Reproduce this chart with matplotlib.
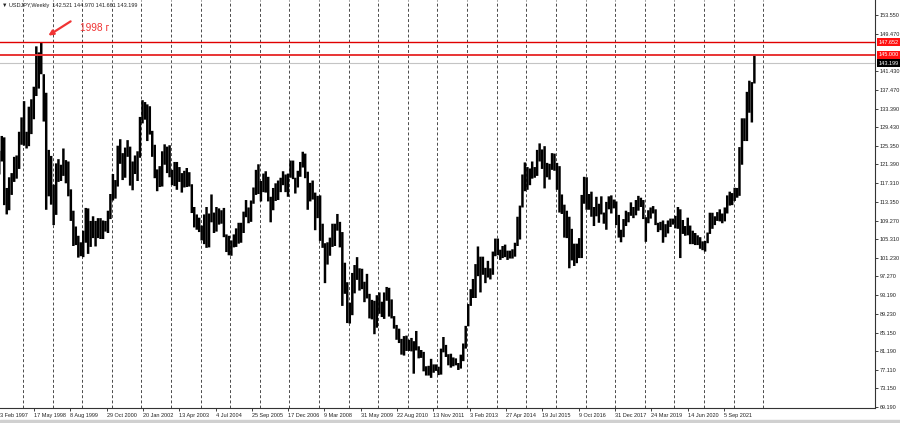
import datetime as dt
import numpy as np
import pandas as pd
import matplotlib
matplotlib.use("Agg")
import matplotlib.pyplot as plt
import matplotlib.transforms as mtransforms
from matplotlib.patches import Rectangle

# header of the chart window
symbol = "USDJPY,Weekly"
last_ohlc = [142.521, 144.970, 141.661, 143.199]

# monthly high / low of USDJPY, Mar 1997 .. Sep 2022
first_month = "1997-03-01"
highs = [
    124.3, 127.5, 127.2, 116.3, 118.6, 119.5, 123.0, 123.3, 128.4, 131.5,                # 1997
    135.0, 128.4, 133.8, 135.4, 138.1, 146.8, 145.5, 147.66, 140.8, 136.8, 124.5, 123.2,  # 1998
    117.0, 121.6, 122.5, 121.3, 124.8, 122.3, 122.0, 116.0, 111.4, 108.0, 106.0, 104.6,   # 1999
    107.1, 112.0, 111.9, 109.2, 110.2, 109.2, 109.8, 109.8, 109.3, 109.2, 111.4, 115.0,   # 2000
    119.3, 118.0, 125.4, 126.8, 123.8, 125.0, 126.6, 125.2, 122.0, 123.3, 124.2, 131.6,   # 2001
    135.2, 134.8, 134.3, 133.9, 128.6, 125.6, 120.3, 121.0, 124.2, 125.7, 125.2, 125.5,   # 2002
    120.2, 121.9, 121.9, 120.8, 119.5, 120.0, 120.6, 119.7, 117.1, 112.2, 110.6, 109.9,   # 2003
    108.2, 110.6, 112.2, 110.8, 114.9, 111.0, 112.2, 111.9, 111.5, 112.0, 106.3, 106.0,   # 2004
    105.0, 106.3, 107.6, 108.8, 108.8, 111.2, 113.7, 112.1, 113.6, 116.4, 120.2, 121.4,   # 2005
    117.8, 119.4, 119.9, 118.7, 114.4, 116.3, 117.3, 117.9, 118.5, 119.9, 119.2, 119.4,   # 2006
    122.2, 122.2, 118.5, 120.0, 121.9, 124.1, 123.7, 119.8, 117.4, 117.9, 115.3, 114.6,   # 2007
    114.7, 108.6, 104.4, 104.6, 105.6, 108.6, 108.6, 110.7, 109.0, 106.8, 100.2, 96.0,    # 2008
    91.6, 98.0, 99.7, 101.4, 99.0, 98.9, 96.1, 97.8, 93.5, 92.2, 92.0, 93.2,              # 2009
    93.8, 91.8, 93.8, 94.98, 94.8, 92.3, 88.7, 86.8, 86.0, 83.8, 84.4, 84.5,              # 2010
    83.6, 84.0, 83.3, 85.5, 82.2, 81.4, 81.0, 77.9, 78.0, 79.5, 78.3, 78.3,               # 2011
    77.8, 81.7, 84.2, 82.5, 80.5, 80.6, 79.8, 79.6, 78.6, 80.4, 82.8, 86.6,               # 2012
    91.3, 94.5, 96.7, 99.9, 103.7, 101.5, 101.5, 99.1, 100.6, 99.0, 102.6, 105.4,         # 2013
    105.4, 103.0, 103.8, 104.1, 102.8, 102.8, 103.1, 104.5, 110.1, 112.5, 119.2, 121.8,   # 2014
    120.8, 120.5, 122.0, 120.8, 124.5, 125.9, 124.6, 125.3, 121.7, 121.5, 123.8, 123.7,   # 2015
    121.7, 121.0, 114.9, 112.7, 111.4, 110.1, 107.5, 104.3, 104.3, 105.5, 114.8, 118.7,   # 2016
    118.6, 115.0, 115.5, 112.2, 114.4, 112.9, 114.5, 111.0, 113.3, 114.5, 114.7, 113.8,   # 2017
    113.4, 110.5, 107.3, 109.6, 111.4, 111.1, 113.2, 112.2, 113.7, 114.6, 114.2, 113.7,   # 2018
    110.0, 111.5, 112.1, 112.4, 111.7, 108.8, 109.0, 109.3, 108.5, 109.3, 109.7, 109.7,   # 2019
    110.3, 112.2, 111.7, 109.4, 108.1, 109.9, 108.2, 107.1, 106.6, 106.1, 105.7, 104.8,   # 2020
    104.9, 106.7, 110.97, 110.96, 110.2, 111.1, 111.7, 110.8, 112.1, 114.7, 115.5, 115.2, # 2021
    116.35, 116.3, 125.1, 131.3, 131.3, 137.0, 139.4, 139.1, 144.97,                      # 2022
]
lows = [
    119.2, 122.0, 112.6, 110.6, 111.5, 114.8, 117.6, 118.3, 120.4, 125.6,                 # 1997
    125.4, 124.8, 125.3, 127.9, 131.1, 136.1, 137.7, 140.8, 130.6, 111.6, 114.5, 112.7,   # 1998
    108.3, 110.5, 117.6, 117.8, 118.9, 117.3, 114.5, 109.2, 103.8, 104.0, 101.3, 101.6,   # 1999
    101.4, 104.5, 102.1, 103.6, 105.5, 103.7, 105.5, 105.3, 105.3, 106.9, 106.6, 109.6,   # 2000
    113.6, 114.0, 116.6, 121.5, 118.0, 118.5, 123.0, 116.8, 115.8, 119.3, 117.8, 122.8,   # 2001
    130.2, 131.0, 126.4, 127.8, 123.0, 118.4, 115.6, 116.5, 116.6, 121.3, 119.5, 118.6,   # 2002
    116.9, 116.7, 115.9, 117.6, 115.3, 116.4, 116.5, 116.6, 110.9, 107.8, 107.3, 106.8,   # 2003
    105.0, 104.2, 103.4, 103.5, 108.9, 106.6, 106.9, 108.4, 108.6, 105.7, 102.5, 101.8,   # 2004
    101.7, 103.5, 103.6, 104.3, 104.5, 106.6, 110.0, 108.7, 109.0, 112.9, 114.8, 115.0,   # 2005
    113.4, 115.4, 115.3, 113.4, 108.9, 111.5, 113.5, 113.7, 115.4, 116.9, 115.4, 114.4,   # 2006
    118.5, 118.2, 115.1, 116.4, 118.7, 120.7, 118.4, 111.6, 113.4, 113.8, 107.2, 109.8,   # 2007
    104.9, 103.4, 95.8, 99.8, 101.7, 103.6, 103.8, 107.1, 103.5, 90.9, 93.5, 87.2,        # 2008
    87.1, 88.9, 93.6, 96.5, 94.2, 94.5, 91.7, 92.5, 88.2, 88.0, 84.8, 86.2,               # 2009
    89.2, 88.5, 88.1, 92.0, 88.6, 88.2, 86.0, 83.6, 82.9, 80.4, 80.2, 81.2,               # 2010
    81.2, 81.1, 76.3, 81.3, 79.6, 79.7, 76.8, 75.9, 75.9, 75.4, 76.5, 76.9,               # 2011
    76.0, 76.1, 80.9, 79.9, 78.1, 77.6, 77.9, 78.1, 77.1, 77.4, 79.0, 81.7,               # 2012
    86.5, 90.9, 92.6, 92.6, 97.3, 93.8, 97.6, 95.8, 97.0, 96.6, 97.6, 101.6,              # 2013
    101.8, 100.8, 101.2, 101.4, 100.8, 101.1, 101.1, 101.5, 103.8, 105.2, 112.1, 115.6,   # 2014
    115.9, 116.9, 118.3, 118.5, 118.9, 122.0, 120.4, 116.2, 118.6, 118.1, 120.2, 120.0,   # 2015
    115.9, 111.0, 110.7, 105.6, 105.5, 99.0, 100.7, 99.5, 100.1, 101.2, 101.2, 112.9,     # 2016
    111.6, 111.6, 110.1, 108.1, 110.2, 108.8, 110.6, 108.6, 107.3, 111.7, 110.8, 111.9,   # 2017
    108.3, 105.6, 104.6, 105.7, 108.1, 108.9, 110.3, 109.8, 110.4, 111.4, 112.2, 109.6,   # 2018
    104.7, 108.7, 109.7, 110.8, 108.3, 106.8, 107.2, 104.5, 105.7, 106.5, 107.9, 108.4,   # 2019
    107.6, 107.5, 101.2, 106.4, 106.0, 106.1, 104.2, 104.2, 104.0, 104.0, 103.2, 102.9,   # 2020
    102.6, 104.4, 106.4, 107.5, 108.3, 109.2, 109.1, 108.7, 109.1, 110.8, 112.5, 112.6,   # 2021
    113.5, 114.2, 114.6, 121.3, 126.4, 126.4, 132.5, 130.4, 138.8,                        # 2022
]

# price axis labels and time axis labels as shown by the terminal
price_ticks = [153.55, 149.47, 141.43, 137.47, 133.39, 129.43, 125.35, 121.39, 117.31,
               113.35, 109.27, 105.31, 101.23, 97.27, 93.19, 89.23, 85.15, 81.19,
               77.11, 73.15, 69.19]
date_ticks = ["1998-05-17", "1999-08-08", "2000-10-29", "2002-01-20", "2003-04-13",
              "2004-07-04", "2005-09-25", "2006-12-17", "2008-03-09", "2009-05-31",
              "2010-08-22", "2011-11-13", "2013-02-03", "2014-04-27", "2015-07-19",
              "2016-10-09", "2017-12-31", "2019-03-24", "2020-06-14", "2021-09-05"]
date_labels = ["17 May 1998", "8 Aug 1999", "29 Oct 2000", "20 Jan 2002", "13 Apr 2003",
               "4 Jul 2004", "25 Sep 2005", "17 Dec 2006", "9 Mar 2008", "31 May 2009",
               "22 Aug 2010", "13 Nov 2011", "3 Feb 2013", "27 Apr 2014", "19 Jul 2015",
               "9 Oct 2016", "31 Dec 2017", "24 Mar 2019", "14 Jun 2020", "5 Sep 2021"]
first_label = "3 Feb 1997"

# horizontal levels
peak_1998 = 147.652
level_145 = 145.000
bid = 143.199

plt.rcParams["font.family"] = ["Liberation Sans", "DejaVu Sans"]
fs = 4.0

months = pd.date_range(first_month, periods=len(highs), freq="MS") + pd.Timedelta(days=14)
highs = np.array(highs)
lows = np.array(lows)

fig = plt.figure(figsize=(9, 4.23), dpi=100)
ax = fig.add_axes([0, 15 / 423, 875 / 900, 408 / 423])

# yearly period separators
for yr in range(1998, 2024):
    ax.axvline(dt.datetime(yr, 1, 1), color="#4a4a4a", lw=0.7, ls=(0, (3, 2.3)), zorder=0)

bars = ax.bar(months, highs - lows, bottom=lows, width=30.4, color="black",
              linewidth=0, zorder=2)
for b in bars:
    b.set_snap(False)

ax.axhline(peak_1998, color="#e00000", lw=1.0, zorder=3)
ax.axhline(level_145, color="#e83434", lw=1.4, zorder=3)
ax.axhline(bid, color="#c4c4c4", lw=0.8, zorder=1)

ax.set_xlim(dt.datetime(1997, 3, 24), dt.datetime(2026, 10, 12))
ax.set_ylim(68.91, 156.78)

# right price scale
ax.yaxis.tick_right()
ax.set_yticks(price_ticks)
ax.set_yticklabels([f"{v:.3f}" for v in price_ticks])
ax.tick_params(axis="y", length=2, width=0.6, labelsize=fs, pad=1.5, colors="#222222")

ax.set_xticks(pd.to_datetime(date_ticks))
ax.set_xticklabels(date_labels)
for lab in ax.get_xticklabels():
    lab.set_ha("left")
ax.tick_params(axis="x", length=2.5, width=0.6, labelsize=fs, pad=1.2, colors="#222222")
ax.annotate(first_label, xy=(0, 0), xycoords="axes fraction", xytext=(0.3, -3.7),
            textcoords="offset points", ha="left", va="top", fontsize=fs, color="#222222")

for side in ["left", "top"]:
    ax.spines[side].set_visible(False)
for side in ["right", "bottom"]:
    ax.spines[side].set_color("#333333")
    ax.spines[side].set_linewidth(0.8)

# level labels on the price scale
trans = mtransforms.blended_transform_factory(ax.transAxes, ax.transData)
for val, col in [(peak_1998, "#ff1010"), (level_145, "#ff1010"), (bid, "black")]:
    ax.text(1.004, val, f"{val:.3f}", transform=trans, ha="left", va="center",
            fontsize=fs, color="white", clip_on=False, zorder=5,
            bbox=dict(boxstyle="square,pad=0.25", fc=col, ec="none"))

# arrow and note for the 1998 high
red = "#f03434"
ax.annotate("", xy=(dt.datetime(1998, 10, 12), 148.8), xytext=(dt.datetime(1999, 9, 10), 152.5),
            arrowprops=dict(arrowstyle="-|>", color=red, lw=1.6, mutation_scale=7), zorder=6)
ax.text(dt.datetime(1999, 12, 5), 150.65, "1998 г", color=red, fontsize=7.3,
        ha="left", va="center", zorder=6)

# window header
fig.text(2 / 900, 1 - 5 / 423,
         "\u25bc " + symbol + "  " + " ".join(f"{v:.3f}" for v in last_ohlc),
         fontsize=fs, ha="left", va="center", color="#222222")

# terminal tab strip at the very bottom
fig.patches.append(Rectangle((0, 0), 1, 3 / 423, transform=fig.transFigure,
                             color="#d0d0d0", zorder=0))

fig.savefig("out.png", dpi=100)
